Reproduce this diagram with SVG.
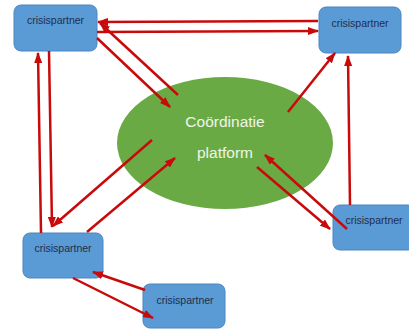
<svg xmlns="http://www.w3.org/2000/svg" width="409" height="331" viewBox="0 0 409 331">
  <style>
    .node rect { fill: #5b9bd5; stroke: #4a86c0; stroke-width: 1; }
    .node text { font-family: "Liberation Sans", Arial, sans-serif; font-size: 10.5px; fill: #1f2d4d; text-anchor: middle; }
    .hub text { font-family: "Liberation Sans", Arial, sans-serif; font-size: 15.5px; fill: #eef6e8; text-anchor: middle; }
    .links path { fill: none; stroke: #c80a0a; stroke-width: 2.5; marker-end: url(#head); }
  </style>
  <defs>
    <marker id="head" markerUnits="userSpaceOnUse" markerWidth="11" markerHeight="8" refX="10" refY="4" orient="auto">
      <path d="M0,0 L11,4 L0,8 z" fill="#c80a0a"/>
    </marker>
  </defs>
  <rect width="409" height="331" fill="#ffffff"/>

  <g id="platform" class="hub">
    <ellipse cx="225" cy="143" rx="108" ry="66" fill="#6aaa45"/>
    <text x="225" y="127">Coördinatie</text>
    <text x="225" y="158">platform</text>
  </g>

  <g id="partner-top-left" class="node">
    <rect x="14" y="5" width="83" height="46" rx="7"/>
    <text x="55.5" y="24">crisispartner</text>
  </g>
  <g id="partner-top-right" class="node">
    <rect x="319" y="7" width="82" height="46" rx="7"/>
    <text x="360" y="27">crisispartner</text>
  </g>
  <g id="partner-bottom-left" class="node">
    <rect x="23" y="233" width="80" height="45" rx="7"/>
    <text x="63" y="252">crisispartner</text>
  </g>
  <g id="partner-bottom" class="node">
    <rect x="143" y="284" width="82" height="44" rx="7"/>
    <text x="185" y="304">crisispartner</text>
  </g>
  <g id="partner-right" class="node">
    <rect x="333" y="205" width="82" height="45" rx="7"/>
    <text x="374" y="224">crisispartner</text>
  </g>

  <g id="connectors" class="links">
    <path d="M318,21 L98,22"/>
    <path d="M97,32 L318,31"/>
    <path d="M97,38 L170,107"/>
    <path d="M178,95 L100,23"/>
    <path d="M41,233 L38,53"/>
    <path d="M49,51 L52,227"/>
    <path d="M152,140 L53,226"/>
    <path d="M87,232 L175,158"/>
    <path d="M145,290 L93,272"/>
    <path d="M73,278 L153,318"/>
    <path d="M288,112 L335,53"/>
    <path d="M350,205 L348,56"/>
    <path d="M347,229 L265,155"/>
    <path d="M257,167 L330,229"/>
  </g>
</svg>
